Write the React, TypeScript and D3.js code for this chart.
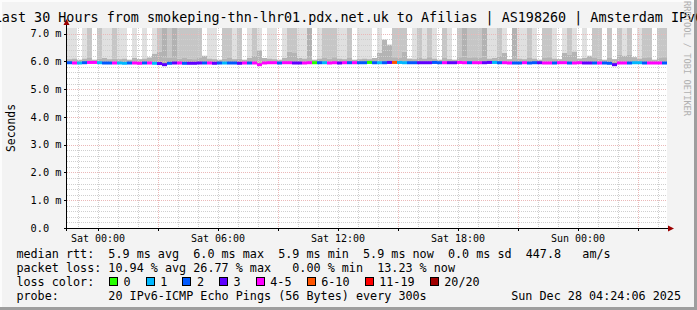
import React from 'react';
import * as d3 from 'd3';

const W = 697;
const H = 310;
const TITLE = 'Last 30 Hours from smokeping-thn-lhr01.pdx.net.uk to Afilias | AS198260 | Amsterdam IPv6';
const WATERMARK = 'RRDTOOL / TOBI OETIKER';

// time axis in hours relative to Sat 00:00
const startHour = -1.55;
const endHour = 28.45;
const stepHours = 0.25;

const yMajorTicks = [0, 1, 2, 3, 4, 5, 6, 7];
const yTickLabels = ['0.0', '1.0 m', '2.0 m', '3.0 m', '4.0 m', '5.0 m', '6.0 m', '7.0 m'];
const xLabelHours = [0, 6, 12, 18, 24];
const xLabels = ['Sat 00:00', 'Sat 06:00', 'Sat 12:00', 'Sat 18:00', 'Sun 00:00'];
const xMajorHours = [3, 9, 15, 21, 27];

// smoke reaching above the chart: 0 none, 1 light, 2 medium, 3 dark
const tallSmoke = [
  1, 1, 0, 1, 2, 0, 2, 1, 1, 2,
  1, 1, 0, 1, 0, 1, 0, 1, 2, 3,
  2, 3, 2, 2, 2, 2, 2, 0, 1, 1,
  0, 2, 2, 1, 2, 0, 1, 2, 1, 0,
  1, 1, 0, 1, 2, 2, 1, 1, 3, 0,
  1, 2, 2, 2, 1, 1, 2, 0, 1, 1,
  1, 0, 1, 0, 0, 2, 2, 2, 0, 1,
  2, 1, 2, 1, 0, 2, 1, 0, 2, 3,
  2, 2, 2, 3, 1, 1, 2, 1, 0, 3,
  1, 1, 2, 1, 0, 2, 2, 1, 0, 1,
  2, 1, 0, 1, 0, 2, 2, 0, 2, 0,
  2, 1, 2, 0, 1, 2, 2, 0, 2, 2,
];

// top of the dense smoke (ms)
const lowSmokeTop = [
  6.08, 6.1, 6.06, 6.1, 6.12, 6.06, 6.1, 6.12, 6.08, 6.1,
  6.08, 6.1, 6.06, 6.12, 6.08, 6.1, 6.14, 6.27, 6.35, 6.15,
  6.12, 6.15, 6.1, 6.12, 6.1, 6.08, 6.12, 6.2, 6.1, 6.08,
  6.06, 6.1, 6.12, 6.08, 6.1, 6.06, 6.12, 6.2, 6.4, 6.12,
  6.1, 6.08, 6.06, 6.12, 6.35, 6.3, 6.12, 6.1, 6.15, 6.06,
  6.1, 6.12, 6.1, 6.15, 6.1, 6.08, 6.12, 6.06, 6.08, 6.1,
  6.08, 6.12, 6.3, 6.78, 6.6, 6.15, 6.12, 6.35, 6.1, 6.08,
  6.12, 6.1, 6.15, 6.1, 6.06, 6.12, 6.08, 6.06, 6.15, 6.18,
  6.12, 6.15, 6.12, 6.18, 6.1, 6.12, 6.2, 6.3, 6.08, 6.15,
  6.1, 6.08, 6.12, 6.1, 6.06, 6.12, 6.15, 6.1, 6.08, 6.3,
  6.25, 6.35, 6.1, 6.12, 6.2, 6.12, 6.1, 6.06, 6.12, 6.08,
  6.25, 6.2, 6.25, 6.15, 6.1, 6.12, 6.15, 6.06, 6.12, 6.15,
];

const medianRtt = [
  5.95, 5.94, 5.94, 5.95, 5.96, 5.96, 5.95, 5.94, 5.94, 5.94,
  5.94, 5.93, 5.94, 5.94, 5.93, 5.94, 5.94, 5.93, 5.92, 5.88,
  5.93, 5.94, 5.94, 5.93, 5.93, 5.93, 5.94, 5.94, 5.94, 5.93,
  5.94, 5.94, 5.94, 5.94, 5.93, 5.94, 5.94, 5.94, 5.88, 5.94,
  5.95, 5.95, 5.94, 5.95, 5.95, 5.94, 5.94, 5.94, 5.95, 5.95,
  5.95, 5.95, 5.94, 5.95, 5.94, 5.95, 5.95, 5.95, 5.95, 5.95,
  5.96, 5.95, 5.95, 5.95, 5.96, 5.96, 5.96, 5.95, 5.95, 5.95,
  5.95, 5.95, 5.95, 5.96, 5.95, 5.95, 5.95, 5.95, 5.96, 5.95,
  5.95, 5.95, 5.95, 5.95, 5.96, 5.96, 5.95, 5.95, 5.94, 5.94,
  5.94, 5.95, 5.94, 5.95, 5.95, 5.94, 5.94, 5.94, 5.95, 5.95,
  5.94, 5.94, 5.95, 5.94, 5.94, 5.94, 5.94, 5.94, 5.93, 5.88,
  5.94, 5.94, 5.94, 5.95, 5.95, 5.94, 5.94, 5.94, 5.94, 5.94,
];

// lost pings out of 20
const lossCount = [
  2, 5, 1, 2, 5, 5, 1, 2, 2, 5,
  1, 1, 2, 5, 5, 2, 5, 1, 3, 3,
  2, 3, 5, 2, 3, 3, 3, 2, 5, 3,
  2, 1, 2, 2, 3, 5, 2, 5, 5, 5,
  5, 5, 2, 5, 5, 3, 3, 5, 5, 0,
  2, 1, 5, 5, 3, 5, 2, 5, 2, 2,
  0, 2, 1, 2, 3, 8, 1, 1, 2, 2,
  3, 3, 3, 2, 2, 5, 3, 3, 5, 5,
  2, 5, 5, 3, 3, 1, 2, 5, 5, 2,
  2, 5, 2, 2, 3, 5, 5, 2, 5, 5,
  2, 5, 5, 3, 3, 2, 5, 2, 2, 3,
  5, 5, 2, 1, 1, 2, 5, 5, 5, 2,
];

const lossLabels = ['0', '1', '2', '3', '4-5', '6-10', '11-19', '20/20'];
const lossColors = ['#26ff00', '#00b8ff', '#0059ff', '#5e00ff', '#ff00ff', '#ff5500', '#ff0000', '#a00000'];
const lossLimits = [0, 1, 2, 3, 5, 10, 19, 20];

const legendLine1 = 'median rtt:  5.9 ms avg  6.0 ms max  5.9 ms min  5.9 ms now  0.0 ms sd  447.8   am/s';
const legendLine2 = 'packet loss: 10.94 % avg 26.77 % max   0.00 % min  13.23 % now';
const legendLine3 = 'loss color:';
const legendLine4 = 'probe:       20 IPv6-ICMP Echo Pings (56 Bytes) every 300s';
const stamp = 'Sun Dec 28 04:24:06 2025';

const smokeColors = ['none', '#e0e0e0', '#c6c6c6', '#b2b2b2'];
const FONT = '"DejaVu Sans Mono", monospace';

function lossColor(n: number) {
  for (let i = 0; i < lossLimits.length; i++) if (n <= lossLimits[i]) return lossColors[i];
  return lossColors[lossColors.length - 1];
}

export default function App() {
  const L = 67, R = 667, T = 28, B = 228;
  const x = d3.scaleLinear().domain([startHour, endHour]).range([L, R]);
  const y = d3.scaleLinear().domain([0, 7.2]).range([B, T]);

  const colX = (i: number) => x(startHour + i * stepHours);

  const minorY: number[] = [];
  for (let k = 1; k * 0.2 < 7.2; k++) if (k % 5 !== 0) minorY.push(k * 0.2);
  const minorX: number[] = [];
  for (let h = Math.ceil(startHour); h <= endHour; h++) if (!xMajorHours.includes(h)) minorX.push(h);

  const sw: { x: number; label: string; color: string }[] = [];
  let cx = 108.9;
  lossLabels.forEach((lab, i) => {
    sw.push({ x: cx, label: lab, color: lossColors[i] });
    cx += 29.6 + 7.1 * lab.length;
  });

  const legendFont = 11.75;

  return (
    <svg width={W} height={H} style={{ position: 'absolute', left: 0, top: 0, fontFamily: FONT }}>
      <rect x={0} y={0} width={W} height={H} fill="#f3f3f3" />
      {/* 3d frame */}
      <rect x={0} y={0} width={W} height={2} fill="#fcfcfc" />
      <rect x={0} y={0} width={2} height={H} fill="#fcfcfc" />
      <rect x={W - 3} y={0} width={3} height={H} fill="#9e9e9e" />
      <rect x={0} y={H - 3} width={W} height={3} fill="#9e9e9e" />

      <rect x={L} y={T} width={R - L} height={B - T} fill="#ffffff" />

      {/* tall smoke */}
      {tallSmoke.map((v, i) =>
        v > 0 ? (
          <rect key={'t' + i} x={colX(i)} y={T} width={colX(i + 1) - colX(i)} height={y(lowSmokeTop[i]) - T} fill={smokeColors[v]} />
        ) : null
      )}
      {/* dense smoke */}
      {lowSmokeTop.map((v, i) => (
        <rect key={'l' + i} x={colX(i)} y={y(v)} width={colX(i + 1) - colX(i)} height={y(medianRtt[i]) - y(v)} fill="#b4b4b4" />
      ))}

      {/* grid */}
      <g shapeRendering="crispEdges" strokeDasharray="1,1">
        {minorY.map((v) => (
          <line key={'my' + v} x1={L} x2={R} y1={Math.round(y(v)) + 0.5} y2={Math.round(y(v)) + 0.5} stroke="#cfcfcf" />
        ))}
        {minorX.map((h) => (
          <line key={'mx' + h} x1={Math.round(x(h)) + 0.5} x2={Math.round(x(h)) + 0.5} y1={T} y2={B} stroke="#cfcfcf" />
        ))}
        {yMajorTicks.filter((v) => v > 0).map((v) => (
          <line key={'My' + v} x1={L} x2={R} y1={Math.round(y(v)) + 0.5} y2={Math.round(y(v)) + 0.5} stroke="#ebb8b8" />
        ))}
        {xMajorHours.map((h) => (
          <line key={'Mx' + h} x1={Math.round(x(h)) + 0.5} x2={Math.round(x(h)) + 0.5} y1={T} y2={B} stroke="#ebb8b8" />
        ))}
      </g>

      {/* median line */}
      {medianRtt.map((v, i) => (
        <rect key={'m' + i} x={colX(i)} y={y(v) - 1.5} width={colX(i + 1) - colX(i)} height={3} fill={lossColor(lossCount[i])} />
      ))}

      {/* axes */}
      <g shapeRendering="crispEdges">
        <line x1={L - 0.5} x2={L - 0.5} y1={B + 3} y2={T - 4} stroke="#000" />
        <line x1={L - 3} x2={R + 2} y1={B + 0.5} y2={B + 0.5} stroke="#000" />
        {yMajorTicks.map((v) => (
          <line key={'yt' + v} x1={L - 3} x2={L} y1={Math.round(y(v)) + 0.5} y2={Math.round(y(v)) + 0.5} stroke="#000" />
        ))}
        {[...xMajorHours, ...xLabelHours].map((h) => (
          <line key={'xt' + h} x1={Math.round(x(h)) + 0.5} x2={Math.round(x(h)) + 0.5} y1={B} y2={B + 3} stroke="#000" />
        ))}
      </g>
      <path d={`M${L - 0.5},${T - 9} L${L - 3.5},${T - 3} L${L + 2.5},${T - 3} Z`} fill="#9b0000" />
      <path d={`M${R + 7},${B + 0.5} L${R + 1},${B - 2.5} L${R + 1},${B + 3.5} Z`} fill="#9b0000" />

      {/* y labels */}
      {yMajorTicks.map((v, i) => (
        <text key={'yl' + v} x={30.5} y={y(v) + 3.7} fontSize={10.3} fill="#000" xmlSpace="preserve">
          {yTickLabels[i]}
        </text>
      ))}
      {/* x labels */}
      {xLabelHours.map((h, i) => (
        <text key={'xl' + h} x={x(h)} y={242} fontSize={10} textAnchor="middle" fill="#000">
          {xLabels[i]}
        </text>
      ))}

      {/* title */}
      <text x={W / 2} y={21.5} fontSize={13.4} textAnchor="middle" fill="#000">
        {TITLE}
      </text>
      {/* y axis title */}
      <text transform={`translate(14.5,128) rotate(-90)`} fontSize={11.4} textAnchor="middle" fill="#000">
        Seconds
      </text>
      {/* watermark */}
      <text transform={`translate(684,1) rotate(90)`} fontSize={8.7} fill="#b0b0b0">
        {WATERMARK}
      </text>

      {/* legend */}
      <g fontSize={legendFont} fill="#000">
        <text x={16.4} y={258} xmlSpace="preserve">{legendLine1}</text>
        <text x={16.4} y={272} xmlSpace="preserve">{legendLine2}</text>
        <text x={16.4} y={286} xmlSpace="preserve">{legendLine3}</text>
        <text x={16.4} y={300} xmlSpace="preserve">{legendLine4}</text>
        <text x={681} y={300} textAnchor="end" xmlSpace="preserve">{stamp}</text>
      </g>
      {sw.map((s) => (
        <g key={s.label}>
          <rect x={s.x + 0.5} y={277.5} width={8} height={8} fill={s.color} stroke="#000" strokeWidth={1} shapeRendering="crispEdges" />
          <text x={s.x + 14.6} y={286} fontSize={legendFont} fill="#000">{s.label}</text>
        </g>
      ))}
    </svg>
  );
}
